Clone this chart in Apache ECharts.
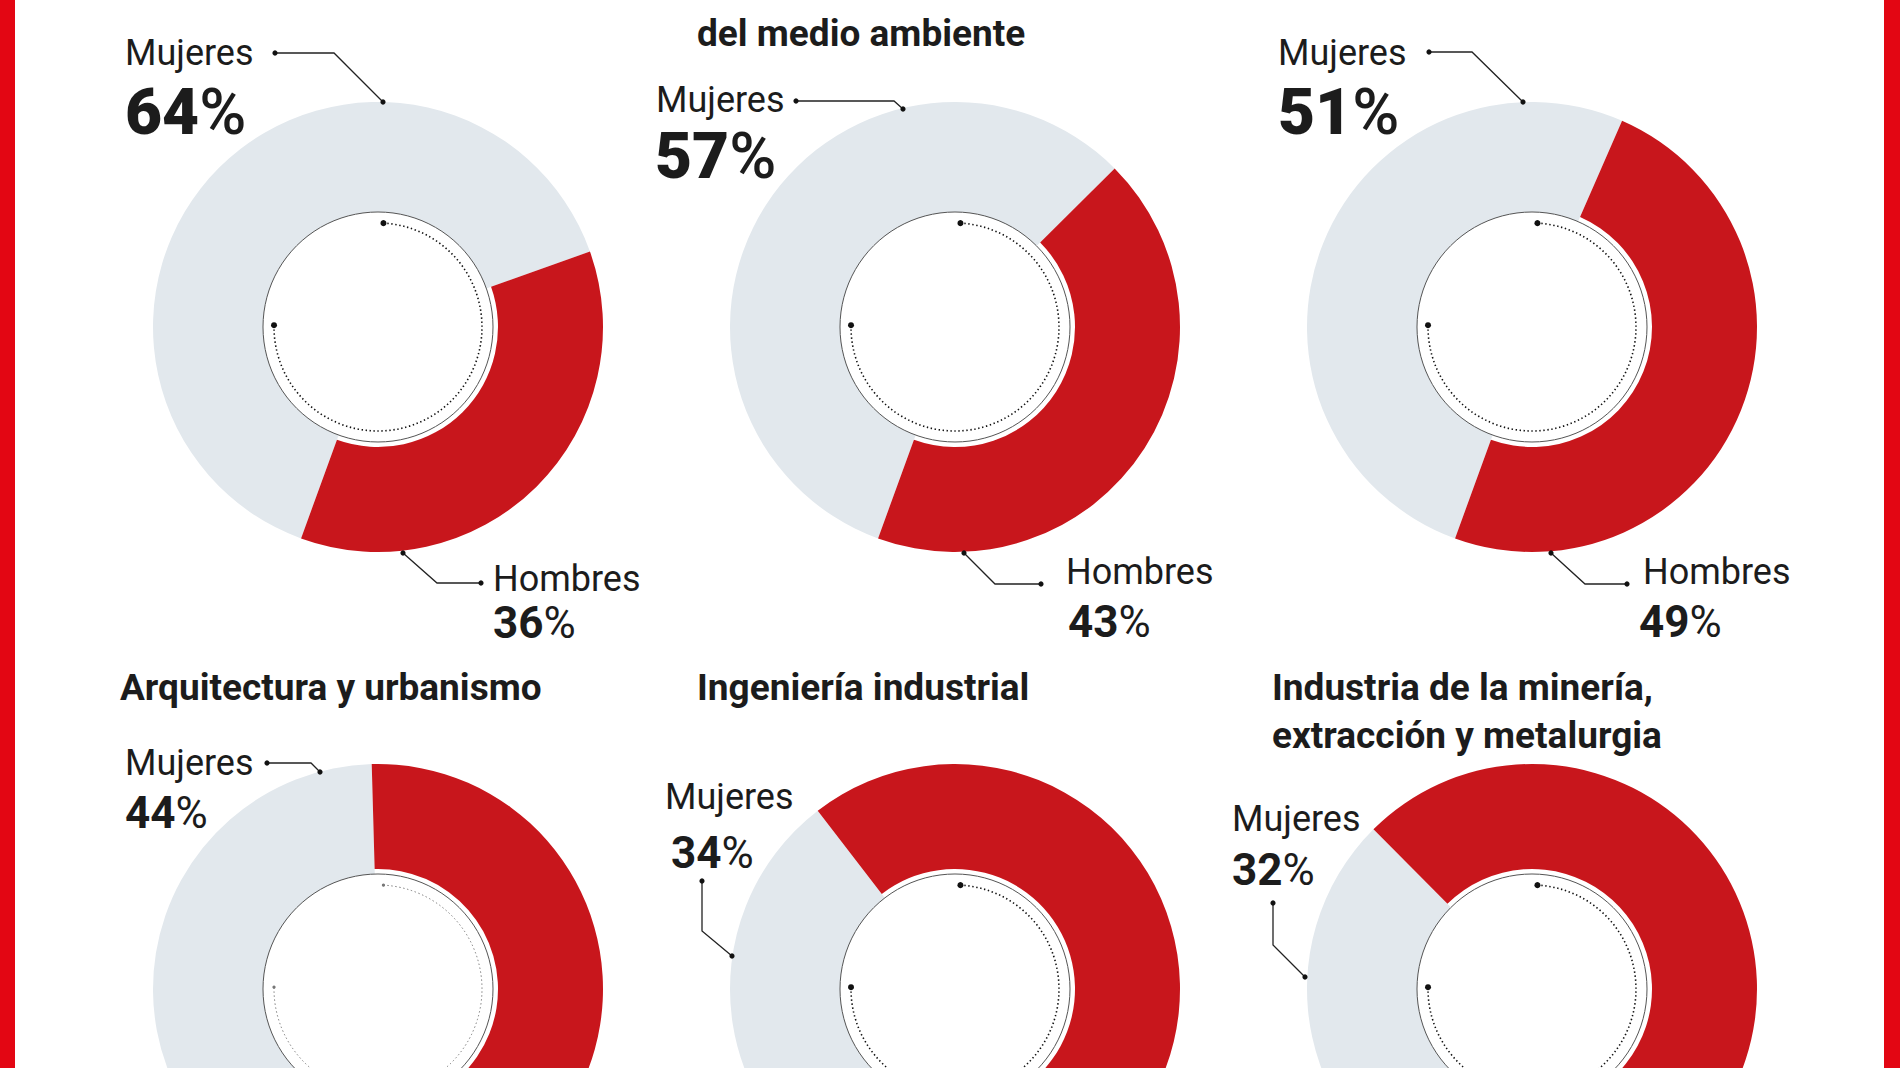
<!DOCTYPE html>
<html><head><meta charset="utf-8">
<script src="https://cdn.jsdelivr.net/npm/echarts@6/dist/echarts.min.js"></script>
<style>html,body{margin:0;padding:0;background:#fff;}#c{width:1900px;height:1068px;}</style>
</head><body><div id="c"></div>
<script>
// ---- data ----
const titles = ['', 'del medio ambiente', '', 'Arquitectura y urbanismo', 'Ingeniería industrial', 'Industria de la minería,\nextracción y metalurgia'];
const groupNames = ['Mujeres', 'Hombres'];
const mujeres = [64, 57, 51, 44, 34, 32];
const hombres = [36, 43, 49, 56, 66, 68];
const showHombres = [true, true, true, false, false, false];

// ---- layout / style ----
const GRAY = '#e2e8ed', RED = '#c8161c', FRAME = '#e30613', INK = '#1c1c1c';
const FONT = 'Roboto, "Noto Sans", sans-serif';
const CX = [378, 955, 1532], CY = [327, 989];
const R_OUT = 225, R_IN_GRAY = 115, R_IN_RED = 120, R_DOTS = 104;
const START = -110; // angle where the Hombres slice ends

// label anchors: [nameX, nameY, pctX, pctY, pctSize, leaderPoints]
const mLab = [
  [125, 53, 125, 112, 64, [[275,53],[334,53],[383,102]]],
  [656, 100, 655, 156, 64, [[796,101],[894,101],[903,109]]],
  [1278, 53, 1278, 112, 64, [[1429,52],[1472,52],[1523,102]]],
  [125, 763, 125, 813, 44, [[267,763],[311,763],[320,772]]],
  [665, 797, 671, 853, 44, [[702,881],[702,931],[732,956]]],
  [1232, 819, 1232, 870, 44, [[1273,903],[1273,945],[1305,977]]]
];
const hLab = [
  [493, 579, 493, 623, 44, [[481,583],[437,583],[403,553]]],
  [1066, 572, 1068, 622, 44, [[1041,584],[995,584],[964,553]]],
  [1643, 572, 1639, 622, 44, [[1627,584],[1585,584],[1551,553]]]
];
const titlePos = [[120, 0], [697, 33], [1272, 0], [120, 687], [697, 687], [1272, 687]];

const series = [], graphic = [], titleOpts = [];
const T = 'rgba(0,0,0,0)';

for (let i = 0; i < 6; i++) {
  const cx = CX[i % 3], cy = CY[Math.floor(i / 3)];
  const common = {
    type: 'pie', center: [cx, cy], startAngle: START, clockwise: false,
    silent: true, animation: false, avoidLabelOverlap: false,
    label: {show: false}, labelLine: {show: false}, emphasis: {disabled: true}
  };
  series.push(Object.assign({}, common, {
    name: 'bg' + i, radius: [R_IN_GRAY, R_OUT],
    data: [
      {name: groupNames[1], value: hombres[i], itemStyle: {color: T}},
      {name: groupNames[0], value: mujeres[i], itemStyle: {color: GRAY}}
    ]
  }));
  series.push(Object.assign({}, common, {
    name: 'fg' + i, radius: [R_IN_RED, R_OUT],
    data: [
      {name: groupNames[1], value: hombres[i], itemStyle: {color: RED}},
      {name: groupNames[0], value: mujeres[i], itemStyle: {color: T}}
    ]
  }));

  // inner outline circle
  graphic.push({type: 'circle', z: 10, silent: true,
    shape: {cx: cx, cy: cy, r: R_IN_GRAY},
    style: {fill: 'none', stroke: '#555', lineWidth: 1}});
  // dotted arc from top, clockwise to the left
  const a0 = (3 - 90) * Math.PI / 180, a1 = (271 - 90) * Math.PI / 180;
  const faint = i === 3;
  graphic.push({type: 'arc', z: 10, silent: true,
    shape: {cx: cx, cy: cy, r: R_DOTS, startAngle: a0, endAngle: a1, clockwise: true},
    style: {fill: 'none', stroke: faint ? '#777' : '#111', lineWidth: faint ? 1 : 1.6, lineDash: [1.4, 2.6]}});
  [a0, a1].forEach(a => graphic.push({type: 'circle', z: 10, silent: true,
    shape: {cx: cx + R_DOTS * Math.cos(a), cy: cy + R_DOTS * Math.sin(a), r: faint ? 1.6 : 3},
    style: {fill: faint ? '#777' : '#111'}}));

  // titles
  if (titles[i]) {
    titleOpts.push({text: titles[i], left: titlePos[i][0], top: titlePos[i][1] - 24, padding: 0,
      textStyle: {fontFamily: FONT, fontSize: 37, fontWeight: 'bold', color: INK, lineHeight: 48}});
  }
}

function addLabel(lab, name, val) {
  const [nx, ny, px, py, size, pts] = lab;
  graphic.push({type: 'polyline', z: 10, silent: true, shape: {points: pts},
    style: {fill: 'none', stroke: '#222', lineWidth: 1.3}});
  [pts[0], pts[pts.length - 1]].forEach(p => graphic.push({type: 'circle', z: 11, silent: true,
    shape: {cx: p[0], cy: p[1], r: 2.6}, style: {fill: '#111'}}));
  graphic.push({type: 'text', z: 10, silent: true, x: nx, y: ny,
    style: {text: name, fontFamily: FONT, fontSize: 36, lineHeight: 28, fontWeight: 'normal', fill: INK, verticalAlign: 'middle', align: 'left'}});
  const big = size > 50;
  const lh = Math.round(size * 0.74);
  graphic.push({type: 'text', z: 10, silent: true, x: px, y: py,
    style: {text: '{d|' + val + '}{p|%}', verticalAlign: 'middle', align: 'left',
      rich: {
        d: {fontFamily: FONT, fontSize: size, lineHeight: lh, fontWeight: big ? 900 : 'bold', fill: INK},
        p: {fontFamily: FONT, fontSize: size, lineHeight: lh, fontWeight: big ? 500 : 'normal', fill: INK}
      }}});
}
for (let i = 0; i < 6; i++) {
  addLabel(mLab[i], groupNames[0], mujeres[i]);
  if (showHombres[i]) addLabel(hLab[i], groupNames[1], hombres[i]);
}

// side frame bars
graphic.push({type: 'rect', z: 20, silent: true, shape: {x: 0, y: 0, width: 15, height: 1068}, style: {fill: FRAME}});
graphic.push({type: 'rect', z: 20, silent: true, shape: {x: 1884, y: 0, width: 16, height: 1068}, style: {fill: FRAME}});

const chart = echarts.init(document.getElementById('c'), null, {renderer: 'svg'});
chart.setOption({
  backgroundColor: '#ffffff',
  animation: false,
  title: titleOpts,
  series: series,
  graphic: graphic
});
</script></body></html>
